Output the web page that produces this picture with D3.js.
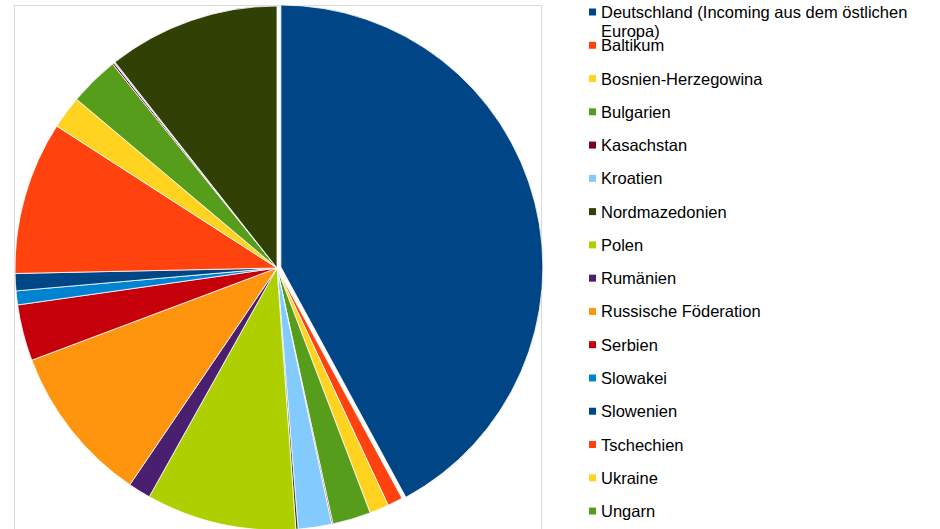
<!DOCTYPE html>
<html>
<head>
<meta charset="utf-8">
<script src="https://cdn.jsdelivr.net/npm/d3@7/dist/d3.min.js"></script>
<style>
  html, body { margin: 0; padding: 0; background: #fff; }
  svg { display: block; }
</style>
</head>
<body>
<svg id="chart" width="940" height="529"></svg>
<script>
// Data (percent shares)
const categories = [
  "Deutschland (Incoming aus dem östlichen Europa)",
  "Baltikum",
  "Bosnien-Herzegowina",
  "Bulgarien",
  "Kasachstan",
  "Kroatien",
  "Nordmazedonien",
  "Polen",
  "Rumänien",
  "Russische Föderation",
  "Serbien",
  "Slowakei",
  "Slowenien",
  "Tschechien",
  "Ukraine",
  "Ungarn",
  "Weißrussland",
  "Zypern",
  "Sonstiges östliches Europa"
];
const values = [42.08, 0.94, 1.19, 2.36, 0.08, 2.06, 0.14, 9.25, 1.39, 9.78, 3.47, 0.86, 1.06, 9.44, 2.03, 3.06, 0.11, 0.08, 10.61];
const palette = ["#004586", "#ff420e", "#ffd320", "#579d1c", "#7e0021", "#83caff",
                 "#314004", "#aecf00", "#4b1f6f", "#ff950e", "#c5000b", "#0084d1"];
const explodedIndex = 0;

const svg = d3.select("#chart");
const W = 940, H = 529;
const cx = 277, cy = 268, R = 262;

// plot area border
svg.append("rect")
  .attr("x", 14.5).attr("y", 5.5)
  .attr("width", 527).attr("height", 600)
  .attr("fill", "none")
  .attr("stroke", "#d9d9d9")
  .attr("stroke-width", 1);

const data = categories.map((c, i) => ({ name: c, value: values[i], color: palette[i % palette.length], i }));

const pie = d3.pie().value(d => d.value).sort(null).startAngle(0).endAngle(2 * Math.PI);
const arc = d3.arc().innerRadius(0).outerRadius(R);
const arcs = pie(data);

const g = svg.append("g").attr("transform", `translate(${cx},${cy})`);
g.selectAll("path")
  .data(arcs)
  .join("path")
  .attr("d", arc)
  .attr("fill", d => d.data.color)
  .attr("stroke", "#ffffff")
  .attr("stroke-width", 0.8)
  .attr("stroke-linejoin", "round")
  .attr("transform", d => {
    if (d.data.i !== explodedIndex) return null;
    const mid = (d.startAngle + d.endAngle) / 2;
    const off = 4;
    return `translate(${off * Math.sin(mid)},${-off * Math.cos(mid)})`;
  });

// legend (entries below the bottom edge are not visible in the picture)
const legendX = 589, legendTextX = 601, legendY0 = 12, legendStep = 33.27, fontSize = 16.5;
const maxTextW = 318;
const lg = svg.append("g");
data.forEach((d, i) => {
  const yc = legendY0 + i * legendStep;
  if (yc + 10 > H) return;
  lg.append("rect")
    .attr("x", legendX).attr("y", yc - 3.5)
    .attr("width", 7).attr("height", 7)
    .attr("fill", d.color);
  const t = lg.append("text")
    .attr("x", legendTextX).attr("y", yc + 6)
    .attr("font-family", "'Liberation Sans', Arial, sans-serif")
    .attr("font-size", fontSize)
    .attr("fill", "#000");
  // simple word wrap
  const words = d.name.split(" ");
  let line = [];
  let tspan = t.append("tspan").attr("x", legendTextX).attr("dy", 0);
  words.forEach(w => {
    line.push(w);
    tspan.text(line.join(" "));
    if (tspan.node().getComputedTextLength() > maxTextW && line.length > 1) {
      line.pop();
      tspan.text(line.join(" "));
      line = [w];
      tspan = t.append("tspan").attr("x", legendTextX).attr("dy", 19).text(w);
    }
  });
});
</script>
</body>
</html>
